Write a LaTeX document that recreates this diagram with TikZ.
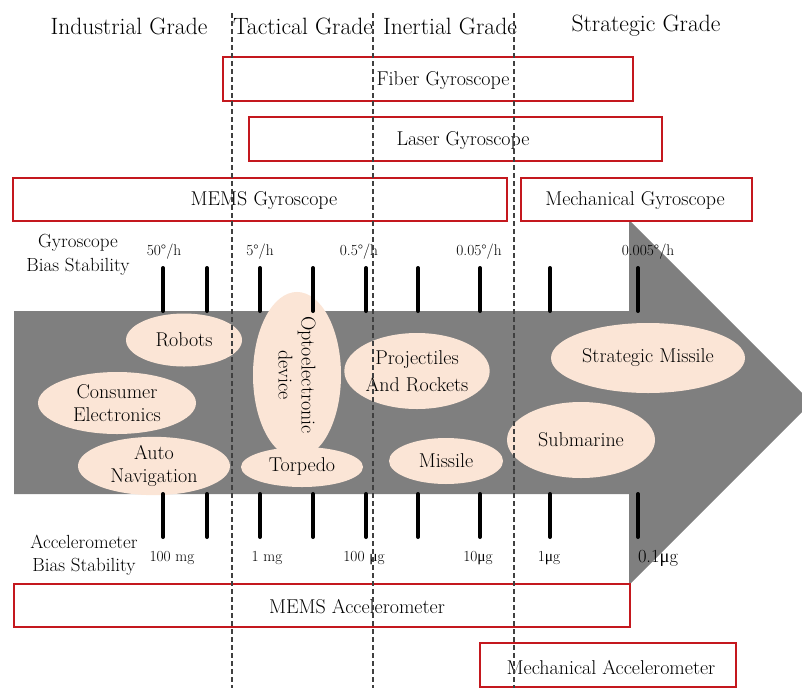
\documentclass[tikz,border=0pt]{standalone}
\usepackage{fontspec}
\newfontfamily\mufont{Liberation Serif}
\usetikzlibrary{shapes.geometric}
\definecolor{arrowgray}{RGB}{127,127,127}
\definecolor{peach}{RGB}{251,229,214}
\definecolor{boxred}{RGB}{196,24,30}
\definecolor{dashgray}{RGB}{64,64,64}
\newcommand{\um}{{\mufont μ}}
\begin{document}
\begin{tikzpicture}[x=1pt,y=-1pt,
  gradetitle/.style={font=\fontsize{23.6}{28}\selectfont},
  boxlabel/.style={font=\fontsize{20}{24}\selectfont},
  redbox/.style={draw=boxred, line width=1.4pt, fill=white, inner sep=0pt},
  app/.style={ellipse, fill=peach, inner sep=0pt, align=center,
    font=\fontsize{20}{23}\selectfont},
  scalemark/.style={line width=4pt, line cap=round},
  marklabel/.style={font=\fontsize{15.4}{18}\selectfont},
  sidelabel/.style={align=center, font=\fontsize{19}{23.5}\selectfont},
  gradeline/.style={dashgray, line width=1.6pt, dash pattern=on 5pt off 3pt}]
\useasboundingbox (0,0) rectangle (802,688);
\clip (0,0) rectangle (802,688);

% grade headings
\node[gradetitle] (industrial) at (129,26) {Industrial Grade};
\node[gradetitle] (tactical)   at (303,26) {Tactical Grade};
\node[gradetitle] (inertial)   at (450,26) {Inertial Grade};
\node[gradetitle] (strategic)  at (646,26) {Strategic Grade};

% big arrow
\fill[arrowgray] (14,311) -- (629,311) -- (629,220) -- (811.5,402.5)
  -- (629,585) -- (629,494) -- (14,494) -- cycle;

% gyroscope technology ranges
\node[redbox, minimum width=410pt, minimum height=44pt] (fiber)    at (428,79) {};
\node[redbox, minimum width=413pt, minimum height=44pt] (laser)    at (455.5,139) {};
\node[redbox, minimum width=494pt, minimum height=43pt] (memsgyro) at (260,199.5) {};
\node[redbox, minimum width=231pt, minimum height=43pt] (mechgyro) at (636.5,199.5) {};
\node[boxlabel] (fiber-t)    at (443,81)  {Fiber Gyroscope};
\node[boxlabel] (laser-t)    at (463,141) {Laser Gyroscope};
\node[boxlabel] (memsgyro-t) at (264,201) {MEMS Gyroscope};
\node[boxlabel] (mechgyro-t) at (635,201) {Mechanical Gyroscope};

% accelerometer technology ranges
\node[redbox, minimum width=616pt, minimum height=43pt] (memsacc) at (322,605.5) {};
\node[redbox, minimum width=256pt, minimum height=44pt] (mechacc) at (608,665) {};
\node[boxlabel] (memsacc-t) at (357,607) {MEMS Accelerometer};
\node[boxlabel] (mechacc-t) at (611,667) {Mechanical Accelerometer};

% applications
\node[app, minimum width=116pt, minimum height=53pt] (robots)   at (184,340) {Robots};
\node[app, minimum width=158pt, minimum height=62pt] (consumer) at (117,403) {Consumer\\Electronics};
\node[app, minimum width=152pt, minimum height=50pt] (autonav)  at (154,466) {Auto\\Navigation};
\node[app, minimum width=126pt, minimum height=88pt, rotate=-90] (opto) at (297,375) {Optoelectronic\\device};
\node[app, minimum width=122pt, minimum height=40pt] (torpedo)  at (302,467) {Torpedo};
\node[app, minimum width=130pt, minimum height=76pt, font=\fontsize{20}{27}\selectfont] (projectiles) at (417,371) {Projectiles\\And Rockets};
\node[app, minimum width=114pt, minimum height=46pt] (missile)  at (446,461) {Missile};
\node[app, minimum width=148pt, minimum height=76pt] (submarine) at (581,440) {Submarine};
\node[app, minimum width=194pt, minimum height=70pt] (stratmissile) at (648,358) {Strategic Missile};

% bias stability scale marks
\foreach \x in {163,207,260,313,366,418,480,550,638}{
  \draw[scalemark] (\x,268) -- (\x,311);
  \draw[scalemark] (\x,494) -- (\x,537);
}

% scale labels
\node[sidelabel] (gyrobias) at (78,255) {Gyroscope\\Bias Stability};
\node[sidelabel] (accbias)  at (84,555) {Accelerometer\\Bias Stability};

\node[marklabel] (g1) at (164,252) {50°/h};
\node[marklabel] (g2) at (260,252) {5°/h};
\node[marklabel] (g3) at (359,252) {0.5°/h};
\node[marklabel] (g4) at (479,252) {0.05°/h};
\node[marklabel] (g5) at (648,252) {0.005°/h};

\node[marklabel] (a1) at (172,558) {100 mg};
\node[marklabel] (a2) at (267,558) {1 mg};
\node[marklabel] (a3) at (364,558) {100 \um g};
\node[marklabel] (a4) at (478,558) {10\um g};
\node[marklabel] (a5) at (549,558) {1\um g};
\node[marklabel, font=\fontsize{18.5}{22}\selectfont] (a6) at (658,558) {0.1\um g};

% grade boundaries
\foreach \x in {232,373,514}
  \draw[gradeline] (\x,13) -- (\x,688);
\end{tikzpicture}
\end{document}
